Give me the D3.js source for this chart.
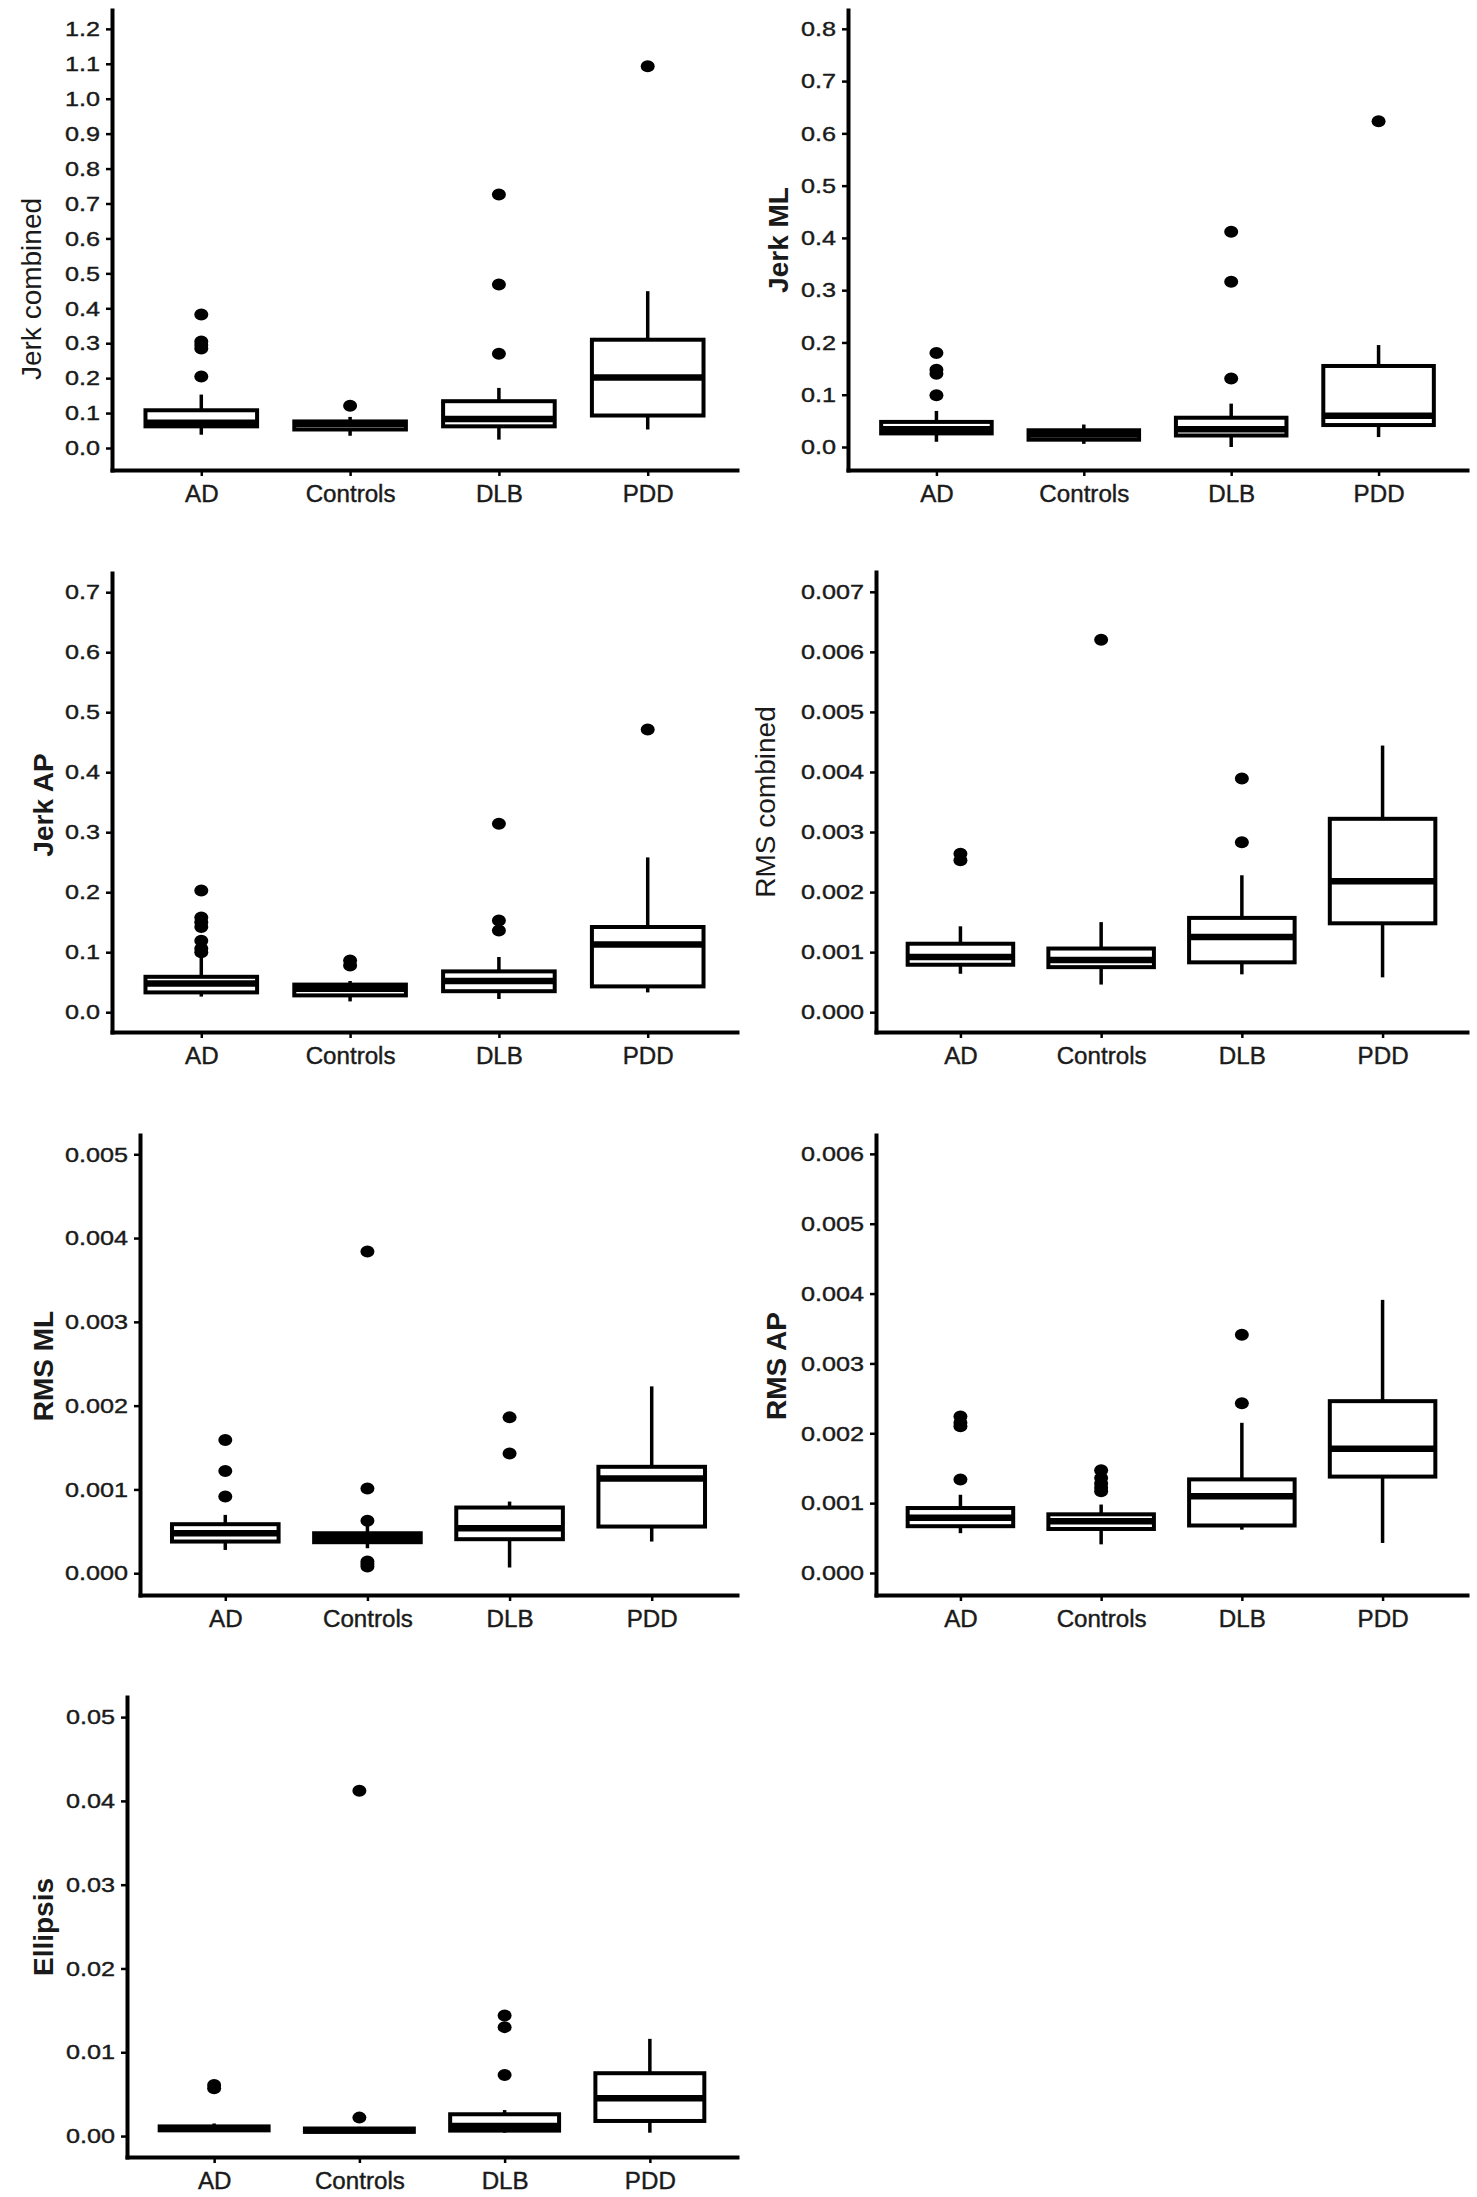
<!DOCTYPE html>
<html>
<head>
<meta charset="utf-8">
<script src="https://cdn.jsdelivr.net/npm/d3@7"></script>
<style>
  body { margin: 0; background: #fff; }
  text { font-family: "Liberation Sans", Arial, sans-serif; fill: #1a1a1a; }
</style>
</head>
<body>
<div id="viz"></div>
<script>
// groups on the x axis
var groups = ["AD", "Controls", "DLB", "PDD"];

// box stats per group: [lower whisker, Q1, median, Q3, upper whisker]
var jerkCombinedBox = [
  [0.038, 0.062, 0.072, 0.108, 0.153],
  [0.035, 0.053, 0.069, 0.076, 0.089],
  [0.024, 0.062, 0.083, 0.134, 0.172],
  [0.053, 0.093, 0.202, 0.310, 0.449]
];
var jerkCombinedOut = [[0.205, 0.285, 0.295, 0.305, 0.382], [0.121], [0.270, 0.468, 0.726], [1.093]];
var jerkCombinedTicks = [0, 0.1, 0.2, 0.3, 0.4, 0.5, 0.6, 0.7, 0.8, 0.9, 1.0, 1.1, 1.2];

var jerkMLBox = [
  [0.010, 0.026, 0.034, 0.048, 0.069],
  [0.006, 0.014, 0.024, 0.032, 0.043],
  [0.000, 0.022, 0.034, 0.056, 0.083],
  [0.019, 0.042, 0.060, 0.155, 0.195]
];
var jerkMLOut = [[0.099, 0.140, 0.148, 0.180], [], [0.131, 0.316, 0.412], [0.623]];
var jerkMLTicks = [0, 0.1, 0.2, 0.3, 0.4, 0.5, 0.6, 0.7, 0.8];

var jerkAPBox = [
  [0.026, 0.033, 0.048, 0.059, 0.094],
  [0.018, 0.028, 0.039, 0.046, 0.052],
  [0.022, 0.035, 0.052, 0.068, 0.092],
  [0.033, 0.043, 0.113, 0.142, 0.258]
];
var jerkAPOut = [[0.100, 0.106, 0.119, 0.142, 0.150, 0.158, 0.203], [0.078, 0.086], [0.136, 0.153, 0.314], [0.471]];
var jerkAPTicks = [0, 0.1, 0.2, 0.3, 0.4, 0.5, 0.6, 0.7];

var rmsCombinedBox = [
  [0.00064, 0.00079, 0.00092, 0.00114, 0.00143],
  [0.00046, 0.00075, 0.00087, 0.00106, 0.00150],
  [0.00063, 0.00083, 0.00125, 0.00157, 0.00228],
  [0.00058, 0.00148, 0.00218, 0.00322, 0.00444]
];
var rmsCombinedOut = [[0.00253, 0.00264], [0.0062], [0.00283, 0.00389], []];
var rmsCombinedTicks = [0, 0.001, 0.002, 0.003, 0.004, 0.005, 0.006, 0.007];

var rmsMLBox = [
  [0.000278, 0.000378, 0.000477, 0.000585, 0.000696],
  [0.000298, 0.000370, 0.000418, 0.000477, 0.000577],
  [0.000068, 0.000406, 0.000537, 0.000784, 0.000855],
  [0.000378, 0.000557, 0.00113, 0.00127, 0.00223]
];
var rmsMLOut = [[0.000915, 0.00122, 0.00159], [0.00008, 0.00011, 0.000139, 0.000625, 0.00101, 0.00384], [0.00143, 0.00186], []];
var rmsMLTicks = [0, 0.001, 0.002, 0.003, 0.004, 0.005];

var rmsAPBox = [
  [0.00057, 0.00067, 0.00079, 0.00093, 0.00112],
  [0.00041, 0.00063, 0.00074, 0.00084, 0.00098],
  [0.00062, 0.00068, 0.00110, 0.00134, 0.00215],
  [0.00043, 0.00138, 0.00178, 0.00246, 0.00391]
];
var rmsAPOut = [[0.00134, 0.00210, 0.00215, 0.00224], [0.00117, 0.00122, 0.00128, 0.00136, 0.00147], [0.00243, 0.00341], []];
var rmsAPTicks = [0, 0.001, 0.002, 0.003, 0.004, 0.005, 0.006];

var ellipsisBox = [
  [0.0005, 0.00068, 0.0009, 0.00115, 0.0015],
  [0.0004, 0.0005, 0.0007, 0.0009, 0.0011],
  [0.0004, 0.00065, 0.0012, 0.0026, 0.0031],
  [0.0004, 0.0018, 0.0045, 0.0075, 0.0116]
];
var ellipsisOut = [[0.0057, 0.0061], [0.0022, 0.0412], [0.0073, 0.0130, 0.0144], []];
var ellipsisTicks = [0, 0.01, 0.02, 0.03, 0.04, 0.05];

// panel layout (pixel frame of each plot and its y range)
var panels = [
  {title: "Jerk combined", bold: false, box: jerkCombinedBox, out: jerkCombinedOut, ticks: jerkCombinedTicks, fmt: ".1f",
   left: 112, right: 737, top: 10, bottom: 470, lo: -0.063, hi: 1.254, tx: 31, ty: 289},
  {title: "Jerk ML", bold: true, box: jerkMLBox, out: jerkMLOut, ticks: jerkMLTicks, fmt: ".1f",
   left: 848, right: 1467, top: 10, bottom: 470, lo: -0.044, hi: 0.836, tx: 778, ty: 240},
  {title: "Jerk AP", bold: true, box: jerkAPBox, out: jerkAPOut, ticks: jerkAPTicks, fmt: ".1f",
   left: 112, right: 737, top: 573, bottom: 1032, lo: -0.033, hi: 0.732, tx: 43, ty: 805},
  {title: "RMS combined", bold: false, box: rmsCombinedBox, out: rmsCombinedOut, ticks: rmsCombinedTicks, fmt: ".3f",
   left: 876, right: 1467, top: 572, bottom: 1032, lo: -0.00033, hi: 0.00733, tx: 765, ty: 802},
  {title: "RMS ML", bold: true, box: rmsMLBox, out: rmsMLOut, ticks: rmsMLTicks, fmt: ".3f",
   left: 140, right: 737, top: 1135, bottom: 1595, lo: -0.00026, hi: 0.00523, tx: 43, ty: 1366},
  {title: "RMS AP", bold: true, box: rmsAPBox, out: rmsAPOut, ticks: rmsAPTicks, fmt: ".3f",
   left: 876, right: 1467, top: 1135, bottom: 1595, lo: -0.000315, hi: 0.00627, tx: 776, ty: 1366},
  {title: "Ellipsis", bold: true, box: ellipsisBox, out: ellipsisOut, ticks: ellipsisTicks, fmt: ".2f",
   left: 127, right: 737, top: 1697, bottom: 2157, lo: -0.0025, hi: 0.0524, tx: 43, ty: 1927}
];

var svg = d3.select("#viz")
  .append("svg")
    .attr("width", 1477)
    .attr("height", 2197);

// stretch text a bit wider, like the original figure
function widen(sel, k) {
  sel.each(function() {
    var w = this.getComputedTextLength();
    d3.select(this).attr("textLength", w * k).attr("lengthAdjust", "spacingAndGlyphs");
  });
}

panels.forEach(function(p) {
  var x = d3.scalePoint().domain(groups).range([p.left, p.right]).padding(0.6);
  var y = d3.scaleLinear().domain([p.lo, p.hi]).range([p.bottom, p.top]);
  var bw = x.step() * 0.75;
  var g = svg.append("g");

  // Y axis
  var yAxis = g.append("g")
    .attr("transform", "translate(" + p.left + ",0)")
    .call(d3.axisLeft(y).tickValues(p.ticks).tickFormat(d3.format(p.fmt))
      .tickSize(6).tickPadding(6).tickSizeOuter(0));

  // X axis
  var xAxis = g.append("g")
    .attr("transform", "translate(0," + p.bottom + ")")
    .call(d3.axisBottom(x).tickSize(6).tickPadding(10).tickSizeOuter(0));

  [yAxis, xAxis].forEach(function(a) {
    a.select(".domain").attr("stroke", "#000").attr("stroke-width", 4).attr("stroke-linecap", "square");
    a.selectAll(".tick line").attr("stroke", "#000").attr("stroke-width", 2.5);
  });
  yAxis.selectAll(".tick text").style("font-size", "21px")
    .attr("fill", "#1a1a1a").attr("stroke", "#1a1a1a").attr("stroke-width", 0.4);
  xAxis.selectAll(".tick text").style("font-size", "23px")
    .attr("fill", "#1a1a1a").attr("stroke", "#1a1a1a").attr("stroke-width", 0.4);
  widen(yAxis.selectAll(".tick text"), 1.2);
  widen(xAxis.selectAll(".tick text"), 1.05);

  // y title
  g.append("text")
    .attr("transform", "translate(" + p.tx + "," + p.ty + ") rotate(-90)")
    .attr("text-anchor", "middle")
    .attr("dy", "0.35em")
    .style("font-size", "28px")
    .style("font-weight", p.bold ? "bold" : "normal")
    .text(p.title);

  var rows = p.box.map(function(s, i) { return {grp: groups[i], s: s, out: p.out[i]}; });

  // whiskers
  g.selectAll(".wlo").data(rows).enter().append("line")
    .attr("x1", function(d) { return x(d.grp); })
    .attr("x2", function(d) { return x(d.grp); })
    .attr("y1", function(d) { return y(d.s[0]); })
    .attr("y2", function(d) { return y(d.s[1]); })
    .attr("stroke", "#000").attr("stroke-width", 3.5);
  g.selectAll(".whi").data(rows).enter().append("line")
    .attr("x1", function(d) { return x(d.grp); })
    .attr("x2", function(d) { return x(d.grp); })
    .attr("y1", function(d) { return y(d.s[3]); })
    .attr("y2", function(d) { return y(d.s[4]); })
    .attr("stroke", "#000").attr("stroke-width", 3.5);

  // boxes
  g.selectAll(".bx").data(rows).enter().append("rect")
    .attr("x", function(d) { return x(d.grp) - bw / 2; })
    .attr("y", function(d) { return y(d.s[3]); })
    .attr("width", bw)
    .attr("height", function(d) { return y(d.s[1]) - y(d.s[3]); })
    .attr("fill", "#fff")
    .attr("stroke", "#000").attr("stroke-width", 4);

  // medians
  g.selectAll(".md").data(rows).enter().append("line")
    .attr("x1", function(d) { return x(d.grp) - bw / 2; })
    .attr("x2", function(d) { return x(d.grp) + bw / 2; })
    .attr("y1", function(d) { return y(d.s[2]); })
    .attr("y2", function(d) { return y(d.s[2]); })
    .attr("stroke", "#000").attr("stroke-width", 6.5);

  // outliers
  var pts = [];
  rows.forEach(function(d) { d.out.forEach(function(v) { pts.push({grp: d.grp, v: v}); }); });
  g.selectAll(".pt").data(pts).enter().append("ellipse")
    .attr("cx", function(d) { return x(d.grp); })
    .attr("cy", function(d) { return y(d.v); })
    .attr("rx", 7).attr("ry", 6)
    .attr("fill", "#000");
});
</script>
</body>
</html>
